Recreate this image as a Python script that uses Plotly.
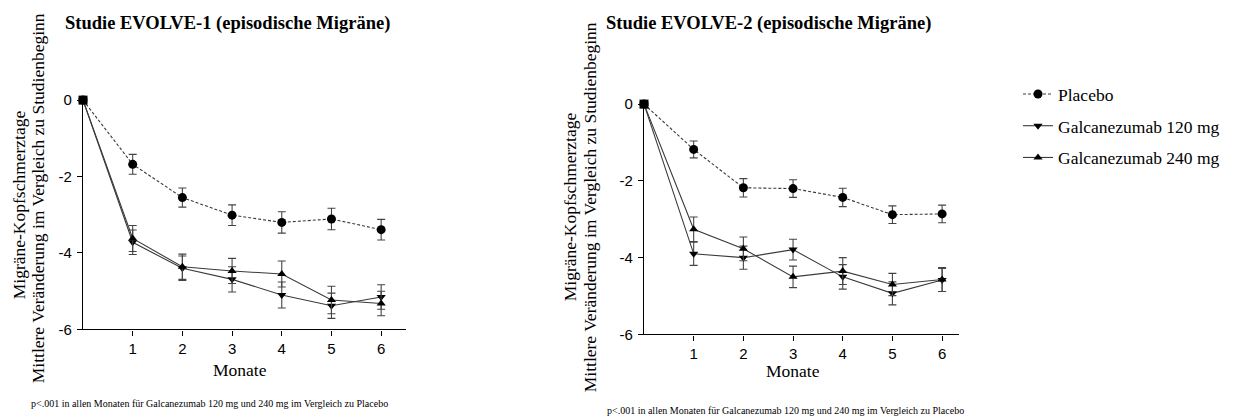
import plotly.graph_objects as go

W, H = 1238, 418

months = [0, 1, 2, 3, 4, 5, 6]
tick_months = [1, 2, 3, 4, 5, 6]
y_ticks = [0, -2, -4, -6]
y_tick_text = ["0", "-2", "-4", "-6"]

series_names = ["Placebo", "Galcanezumab 120 mg", "Galcanezumab 240 mg"]

# EVOLVE-1
e1_placebo = [0, -1.68, -2.55, -3.01, -3.20, -3.11, -3.39]
e1_placebo_se = [0, 0.26, 0.25, 0.27, 0.28, 0.28, 0.27]
e1_120 = [0, -3.72, -4.40, -4.69, -5.10, -5.38, -5.15]
e1_120_se = [0, 0.32, 0.32, 0.33, 0.34, 0.33, 0.32]
e1_240 = [0, -3.62, -4.36, -4.47, -4.55, -5.23, -5.32]
e1_240_se = [0, 0.34, 0.33, 0.33, 0.34, 0.36, 0.32]

# EVOLVE-2
e2_placebo = [0, -1.18, -2.18, -2.20, -2.43, -2.88, -2.86]
e2_placebo_se = [0, 0.22, 0.24, 0.23, 0.24, 0.23, 0.23]
e2_120 = [0, -3.90, -4.00, -3.79, -4.50, -4.93, -4.58]
e2_120_se = [0, 0.30, 0.30, 0.27, 0.32, 0.30, 0.30]
e2_240 = [0, -3.26, -3.77, -4.50, -4.35, -4.70, -4.57]
e2_240_se = [0, 0.32, 0.31, 0.28, 0.35, 0.29, 0.31]

titles = ["Studie EVOLVE-1 (episodische Migräne)", "Studie EVOLVE-2 (episodische Migräne)"]
y_title_1 = "Migräne-Kopfschmerztage"
y_title_2 = "Mittlere Veränderung im Vergleich zu Studienbeginn"
x_title = "Monate"
footnote = "p<.001 in allen Monaten für Galcanezumab 120 mg und 240 mg im Vergleich zu Placebo"

SERIF = "Liberation Serif"
SANS = "Liberation Sans"
LINE = "#3a3a3a"

# page offset correction (as observed in the rendered page)
OX, OY, SY = 8, 17, 0.958


def px(x):
    return (x - OX) / W


def py(y):
    return 1 - ((y - OY) / SY) / H


fig = go.Figure()

styles = [
    dict(symbol="circle", size=9, dash="3px,2px"),
    dict(symbol="triangle-down", size=8, dash="solid"),
    dict(symbol="triangle-up", size=8, dash="solid"),
]

panels = [
    ("x", "y", [e1_placebo, e1_120, e1_240], [e1_placebo_se, e1_120_se, e1_240_se], True),
    ("x2", "y2", [e2_placebo, e2_120, e2_240], [e2_placebo_se, e2_120_se, e2_240_se], False),
]

for xa, ya, vals, ses, show in panels:
    for i, (v, se) in enumerate(zip(vals, ses)):
        st = styles[i]
        fig.add_trace(go.Scatter(
            x=months, y=v, name=series_names[i], xaxis=xa, yaxis=ya,
            mode="lines+markers",
            line=dict(color=LINE, width=1.1, dash=st["dash"]),
            marker=dict(symbol=st["symbol"], size=st["size"], color="black",
                        line=dict(width=0)),
            error_y=dict(type="data", array=se, visible=True, color="#444444",
                         thickness=1.1, width=4),
            cliponaxis=False,
            showlegend=show, legendgroup=f"g{i}",
        ))
    # common baseline point (all series start at 0) drawn as a square
    fig.add_trace(go.Scatter(
        x=months[:1], y=vals[0][:1], xaxis=xa, yaxis=ya, mode="markers",
        marker=dict(symbol="square", size=9, color="black"),
        cliponaxis=False, showlegend=False, hoverinfo="skip",
    ))

axis_common = dict(
    showgrid=False, zeroline=False, showline=True, linecolor="black", linewidth=1.3,
    ticks="outside", ticklen=5, tickwidth=1.3, tickcolor="black",
    tickfont=dict(family=SANS, size=15, color="black"),
)

fig.update_layout(
    width=W, height=H, margin=dict(l=0, r=0, t=0, b=0),
    paper_bgcolor="white", plot_bgcolor="white",
    xaxis=dict(domain=[px(83), px(406)], range=[0, 6.5], tickvals=tick_months,
               anchor="y", **axis_common),
    yaxis=dict(domain=[py(329), py(100)], range=[-6, 0], tickvals=y_ticks,
               ticktext=y_tick_text, anchor="x", ticklabelstandoff=2, **axis_common),
    xaxis2=dict(domain=[px(644), px(959)], range=[0, 6.34], tickvals=tick_months,
                anchor="y2", **axis_common),
    yaxis2=dict(domain=[py(334), py(104)], range=[-6, 0], tickvals=y_ticks,
                ticktext=y_tick_text, anchor="x2", ticklabelstandoff=2, **axis_common),
    legend=dict(x=px(1018), y=py(76), xanchor="left", yanchor="top",
                font=dict(family=SERIF, size=17.5, color="black"),
                tracegroupgap=6, traceorder="grouped", itemwidth=30,
                bgcolor="rgba(0,0,0,0)"),
)

ann = []
# titles
ann.append(dict(text=f"<b>{titles[0]}</b>", x=px(63), y=py(23), xanchor="left", yanchor="middle",
                font=dict(family=SERIF, size=18.5, color="black")))
ann.append(dict(text=f"<b>{titles[1]}</b>", x=px(604), y=py(23), xanchor="left", yanchor="middle",
                font=dict(family=SERIF, size=18.5, color="black")))
# y titles (two lines each)
for xl1, xl2, yc1, yc2 in [(19, 38, 205, 198), (570, 590, 207, 207)]:
    ann.append(dict(text=y_title_1, x=px(xl1), y=py(yc1), textangle=-90, xanchor="center",
                    yanchor="middle", font=dict(family=SERIF, size=17.5, color="black")))
    ann.append(dict(text=y_title_2, x=px(xl2), y=py(yc2), textangle=-90, xanchor="center",
                    yanchor="middle", font=dict(family=SERIF, size=17.5, color="black")))
# x titles
ann.append(dict(text=x_title, x=px(240), y=py(370), xanchor="center", yanchor="middle",
                font=dict(family=SERIF, size=17.5, color="black")))
ann.append(dict(text=x_title, x=px(793), y=py(371), xanchor="center", yanchor="middle",
                font=dict(family=SERIF, size=17.5, color="black")))
# footnotes
ann.append(dict(text=footnote, x=px(29), y=py(403), xanchor="left", yanchor="middle",
                font=dict(family=SERIF, size=10, color="black")))
ann.append(dict(text=footnote, x=px(605), y=py(410), xanchor="left", yanchor="middle",
                font=dict(family=SERIF, size=10, color="black")))

for a in ann:
    a.update(xref="paper", yref="paper", showarrow=False)
fig.update_layout(annotations=ann)

fig.write_html("out.html")
